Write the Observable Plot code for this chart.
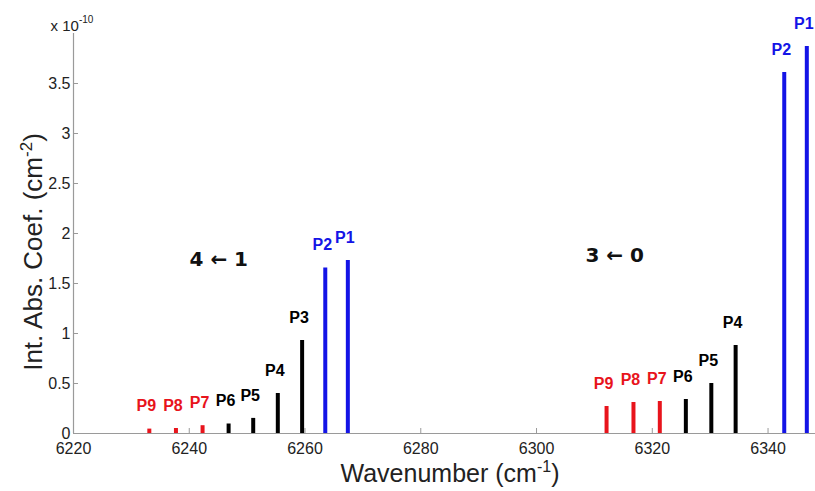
<!DOCTYPE html>
<html>
<head>
<meta charset="utf-8">
<script src="https://cdn.jsdelivr.net/npm/d3@7"></script>
<script src="https://cdn.jsdelivr.net/npm/@observablehq/plot@0.6"></script>
<style>
  html, body { margin: 0; padding: 0; background: #fff; }
  svg { display: block; }
</style>
</head>
<body>
<div id="chart"></div>
<script>
// Band 4 <- 1 (hot band)
const band1Names = ["P9", "P8", "P7", "P6", "P5", "P4", "P3", "P2", "P1"];
const band1Wn    = [6233.1, 6237.7, 6242.3, 6246.8, 6251.05, 6255.3, 6259.5, 6263.5, 6267.4];
const band1Val   = [0.044, 0.05, 0.078, 0.095, 0.151, 0.40, 0.93, 1.655, 1.73]; // x 1e-10
const band1Group = ["weak", "weak", "weak", "mid", "mid", "mid", "mid", "strong", "strong"];

// Band 3 <- 0
const band2Names = ["P9", "P8", "P7", "P6", "P5", "P4", "P2", "P1"];
const band2Wn    = [6312.1, 6316.75, 6321.3, 6325.8, 6330.2, 6334.4, 6342.8, 6346.7];
const band2Val   = [0.27, 0.31, 0.32, 0.34, 0.50, 0.88, 3.61, 3.87]; // x 1e-10
const band2Group = ["weak", "weak", "weak", "mid", "mid", "mid", "strong", "strong"];

// Band annotations (data coordinates)
const bandLabels = ["4 \u2190 1", "3 \u2190 0"];
const bandLabelX = [6245.1, 6313.5];
const bandLabelY = [1.74, 1.78];

// Axis ticks
const xTicks = [6220, 6240, 6260, 6280, 6300, 6320, 6340];
const yTicks = [0, 0.5, 1, 1.5, 2, 2.5, 3, 3.5];

const lines = [
  ...band1Names.map((n, i) => ({name: n, wn: band1Wn[i], val: band1Val[i], group: band1Group[i]})),
  ...band2Names.map((n, i) => ({name: n, wn: band2Wn[i], val: band2Val[i], group: band2Group[i]}))
];
const bands = bandLabels.map((t, i) => ({text: t, x: bandLabelX[i], y: bandLabelY[i]}));

const axisGray = "#9a9a9a";
const font = "'Liberation Sans', Arial, Helvetica, sans-serif";

const svg = Plot.plot({
  width: 815,
  height: 491,
  marginLeft: 73,
  marginRight: 0,
  marginTop: 33,
  marginBottom: 58,
  style: {fontFamily: font, fontSize: "16px", color: "#222", background: "#fff"},
  x: {domain: [6220, 6348.2], axis: null},
  y: {domain: [0, 4], axis: null},
  color: {domain: ["weak", "mid", "strong"], range: ["#e8141c", "#000000", "#1414e6"]},
  marks: [
    Plot.ruleY([0], {stroke: axisGray, strokeWidth: 1.2}),
    Plot.ruleX([6220], {stroke: axisGray, strokeWidth: 1.2}),
    Plot.axisX({ticks: xTicks, tickSize: -5, tickPadding: 14, stroke: axisGray, fill: "#222", fontSize: 16, tickFormat: d => String(d), label: null}),
    Plot.axisY({ticks: yTicks, tickSize: -5, tickPadding: 8, stroke: axisGray, fill: "#222", fontSize: 16, tickFormat: d => String(d), label: null}),
    Plot.ruleX(lines, {x: "wn", y1: 0, y2: "val", stroke: "group", strokeWidth: 4}),
    Plot.text(lines, {x: "wn", y: "val", text: "name", dx: -3, dy: -23, fill: "group", fontWeight: "bold", fontSize: 16}),
    Plot.text(bands, {x: "x", y: "y", text: "text", fontWeight: "bold", fontSize: 20, fill: "#111", fontFamily: "'DejaVu Sans', 'Liberation Sans', sans-serif"})
  ]
});

document.getElementById("chart").appendChild(svg);

// Axis titles with superscripts and exponent label, as real SVG text
const s = d3.select(svg);
const xl = s.append("text")
  .attr("x", 450).attr("y", 482)
  .attr("text-anchor", "middle")
  .attr("font-family", font).attr("font-size", 25).attr("fill", "#222");
xl.append("tspan").text("Wavenumber (cm");
xl.append("tspan").attr("dy", -10).attr("font-size", 16).text("-1");
xl.append("tspan").attr("dy", 10).text(")");

const yl = s.append("text")
  .attr("transform", "translate(42,252) rotate(-90)")
  .attr("text-anchor", "middle")
  .attr("font-family", font).attr("font-size", 26).attr("fill", "#222");
yl.append("tspan").text("Int. Abs. Coef. (cm");
yl.append("tspan").attr("dy", -10).attr("font-size", 17).text("-2");
yl.append("tspan").attr("dy", 10).text(")");

const ex = s.append("text")
  .attr("x", 72).attr("y", 31)
  .attr("font-family", font).attr("font-size", 15).attr("fill", "#222");
ex.append("tspan").text("x 10");
ex.append("tspan").attr("dy", -8).attr("font-size", 10).text("-10");
</script>
</body>
</html>
